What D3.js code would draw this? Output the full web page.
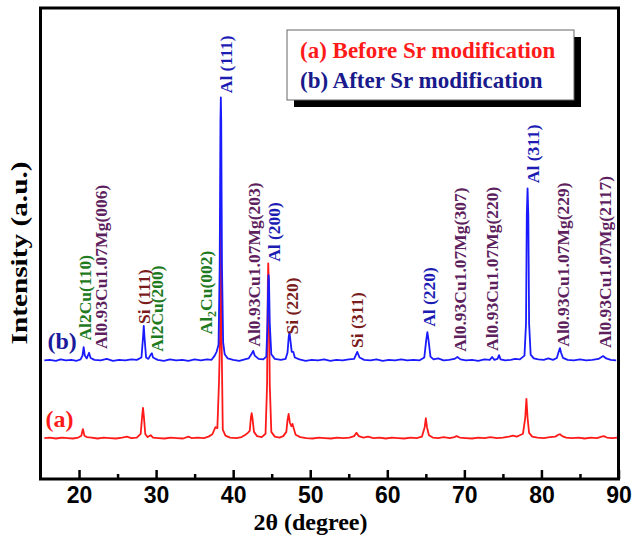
<!DOCTYPE html>
<html>
  <head>
    <meta charset="utf-8">
    <script src="https://d3js.org/d3.v7.min.js"></script>
    <title>XRD patterns</title>
    <style>
      body { margin: 0; background: #fff; }
      svg { font-family: "Liberation Serif", "Times New Roman", serif; }
      .tick text { font-size: 23px; font-weight: bold; fill: #000; }
      .tick line { stroke: #000; stroke-width: 2.5; }
      .peak-label { font-size: 17.5px; font-weight: bold; }
    </style>
  </head>
  <body>
    <svg width="632" height="538"></svg>
    <script>
      // 2theta (deg), intensity (a.u.)
      const before = [
        [15.5,87],[16.2,88],[17,86],[17.8,88],[18.5,87],[19.2,86],[19.9,88],[20.3,92],[20.5,106],[20.7,92],
        [21,89],[21.6,88],[22.4,86],[23.2,88],[24,87],[24.8,86],[25.6,88],[26.2,90],[26.8,87],[27.5,88],
        [28.0,96],[28.2,135],[28.3,151],[28.4,135],[28.6,95],[28.9,89],[29.3,93],[29.6,88],[30.3,87],[31.1,86],
        [31.9,88],[32.7,87],[33.5,86],[34.2,90],[34.6,87],[35.4,88],[36.2,87],[36.8,90],[37.3,95],[37.7,110],
        [37.95,108],[38.15,200],[38.3,300],[38.4,592],[38.5,300],[38.65,105],[39.0,92],[39.6,88],[40.4,87],
        [41.1,89],[41.6,94],[41.9,98],[42.15,102],[42.3,130],[42.4,140],[42.5,130],[42.7,100],[43.1,91],[43.7,89],
        [44.2,96],[44.4,200],[44.5,420],[44.55,458],[44.62,420],[44.75,200],[44.95,100],[45.4,90],[46,88],[46.5,91],
        [46.9,100],[47.05,125],[47.2,138],[47.35,120],[47.55,112],[47.7,117],[47.85,108],[48.1,94],[48.7,89],[49.5,87],
        [50.3,86],[51.1,88],[51.9,87],[52.7,86],[53.5,88],[54.3,87],[55.1,88],[55.7,91],[56.0,98],[56.3,91],
        [56.9,88],[57.5,90],[58.2,87],[59,88],[59.8,86],[60.6,88],[61.4,87],[62.2,86],[63,88],[63.8,87],
        [64.5,90],[64.85,110],[65.0,129],[65.15,110],[65.4,93],[65.9,88],[66.6,87],[67.3,89],[68.1,87],[68.7,89],
        [69.0,91],[69.4,88],[70.2,87],[71,86],[71.8,88],[72.6,87],[73.4,89],[74.2,87],[75,88],[75.8,90],
        [76.3,92],[76.8,90],[77.2,93],[77.6,96],[77.9,130],[78.05,170],[78.2,130],[78.4,98],[78.8,90],[79.5,88],
        [80.3,87],[81.1,89],[81.8,90],[82.2,94],[82.4,95],[82.7,91],[83.2,88],[84,87],[84.8,88],[85.6,86],
        [86.4,88],[87.2,87],[87.8,90],[88.1,91],[88.5,88],[89.2,87],[89.8,88]
      ];
      const after = [
        [15.5,252],[16.2,253],[17,251],[17.6,254],[18.3,252],[19,253],[19.7,251],[20.2,254],[20.45,262],[20.6,280],
        [20.75,262],[21.0,256],[21.3,268],[21.5,257],[22,253],[22.8,252],[23.6,255],[24.4,251],[25.2,253],[26,252],
        [26.8,254],[27.5,253],[28.1,258],[28.3,300],[28.4,325],[28.5,300],[28.7,258],[29.0,255],[29.3,264],[29.45,267],
        [29.6,258],[30.2,253],[31,251],[31.8,254],[32.6,252],[33.4,253],[34.2,251],[35,254],[35.8,252],[36.6,254],
        [37.2,253],[37.6,262],[37.85,270],[38.1,285],[38.25,450],[38.35,760],[38.4,810],[38.45,760],[38.55,450],[38.7,290],
        [38.9,265],[39.3,256],[40,253],[40.8,251],[41.5,254],[42.0,256],[42.4,266],[42.6,272],[42.8,262],[43.3,255],
        [43.9,254],[44.3,260],[44.45,330],[44.55,420],[44.6,433],[44.65,420],[44.75,330],[44.95,265],[45.4,255],[46.2,253],
        [46.8,255],[47.05,268],[47.2,300],[47.3,312],[47.4,298],[47.6,270],[47.8,270],[48.0,258],[48.6,254],[49.4,251],
        [50.2,253],[51,252],[51.8,254],[52.6,251],[53.4,253],[54.2,252],[55,254],[55.7,255],[56.1,270],[56.4,258],
        [57,253],[57.8,252],[58.6,254],[59.4,251],[60.2,253],[61,252],[61.8,254],[62.6,252],[63.4,253],[64.2,252],
        [64.8,258],[65.05,295],[65.2,312],[65.35,295],[65.6,260],[66,254],[66.6,256],[67.3,252],[68,253],[68.7,255],
        [69.1,259],[69.5,254],[70.2,252],[71,253],[71.8,251],[72.6,254],[73.3,253],[73.6,259],[73.9,253],[74.3,255],
        [74.5,263],[74.7,254],[75.3,252],[76,253],[76.6,255],[77.2,254],[77.8,262],[78.0,330],[78.1,560],[78.2,617],
        [78.3,560],[78.4,330],[78.6,264],[79,256],[79.6,254],[80.3,253],[80.9,256],[81.5,253],[82.0,257],[82.2,268],
        [82.4,278],[82.55,268],[82.8,257],[83.4,253],[84.2,252],[85,254],[85.8,252],[86.6,253],[87.4,255],[88.0,261],
        [88.4,256],[89,253],[89.7,252]
      ];

      // peak labels: text, phase, 2theta, intensity where label starts
      const peakLabels = [
        ['Al2Cu(110)', 'al2cu', 20.77, 294],
        ['Al0.93Cu1.07Mg(006)', 'mg', 22.85, 276],
        ['Si (111)', 'si', 28.35, 329],
        ['Al2Cu(200)', 'al2cu', 30.08, 270],
        ['Al_2Cu(002)', 'al2cu', 36.47, 307],
        ['Al (111)', 'al', 39.07, 819],
        ['Al0.93Cu1.07Mg(203)', 'mg', 42.70, 281],
        ['Al (200)', 'al', 45.25, 461],
        ['Si (220)', 'si', 47.56, 307],
        ['Si (311)', 'si', 56.07, 278],
        ['Al (220)', 'al', 65.36, 323],
        ['Al0.93Cu1.07Mg(307)', 'mg', 69.43, 270],
        ['Al0.93Cu1.07Mg(220)', 'mg', 73.58, 272],
        ['Al (311)', 'al', 78.85, 628],
        ['Al0.93Cu1.07Mg(229)', 'mg', 82.78, 281],
        ['Al0.93Cu1.07Mg(2117)', 'mg', 88.25, 278]
      ];
      const majorTicks = [20, 30, 40, 50, 60, 70, 80, 90];
      const minorTicks = [25, 35, 45, 55, 65, 75, 85];
      const legendItems = ['(a) Before Sr modification', '(b) After Sr modification'];

      const phaseColor = { al: '#1c1cb4', si: '#7a1c1c', al2cu: '#1e7a1e', mg: '#5e1f5e' };

      const svg = d3.select('svg');
      const margin = { left: 40.5, top: 8, right: 13.5, bottom: 59 };
      const width = +svg.attr('width') - margin.left - margin.right;
      const height = +svg.attr('height') - margin.top - margin.bottom;

      const x = d3.scaleLinear().domain([15, 90]).range([0, width]);
      const y = d3.scaleLinear().domain([0, 1000]).range([height, 0]);

      const g = svg.append('g').attr('transform', `translate(${margin.left},${margin.top})`);

      // ticks (inward)
      const xAxis = g.append('g')
        .attr('transform', `translate(0,${height})`)
        .call(d3.axisBottom(x).tickValues(majorTicks).tickSizeInner(-9).tickSizeOuter(0).tickFormat(d3.format('d')));
      xAxis.select('.domain').remove();
      xAxis.selectAll('.tick text').attr('y', 24).attr('dy', null);

      const minorAxis = g.append('g')
        .attr('transform', `translate(0,${height})`)
        .call(d3.axisBottom(x).tickValues(minorTicks).tickSizeInner(-5).tickSizeOuter(0).tickFormat(''));
      minorAxis.select('.domain').remove();

      const line = d3.line().x(d => x(d[0])).y(d => y(d[1]));

      g.append('path').datum(before)
        .attr('fill', 'none').attr('stroke', '#ff1a1a').attr('stroke-width', 1.8)
        .attr('stroke-linejoin', 'round').attr('d', line);
      g.append('path').datum(after)
        .attr('fill', 'none').attr('stroke', '#1a1aff').attr('stroke-width', 1.8)
        .attr('stroke-linejoin', 'round').attr('d', line);

      // peak labels, rotated
      peakLabels.forEach(p => {
        const t = g.append('text')
          .attr('class', 'peak-label')
          .attr('transform', `translate(${x(p[2])},${y(p[3])}) rotate(-90)`)
          .attr('dy', '0.35em')
          .attr('fill', phaseColor[p[1]]);
        if (p[0].indexOf('_') >= 0) {
          const parts = p[0].split('_');
          t.append('tspan').text(parts[0]);
          t.append('tspan').attr('font-size', '12px').attr('dy', '4').text(parts[1][0]);
          t.append('tspan').attr('dy', '-4').text(parts[1].slice(1));
        } else {
          t.text(p[0]);
        }
      });

      // series tags
      g.append('text').attr('x', 7).attr('y', y(275)).attr('fill', '#1a1a9a')
        .attr('font-size', 24).attr('font-weight', 'bold').text('(b)');
      g.append('text').attr('x', 5).attr('y', y(111)).attr('fill', '#ff1a1a')
        .attr('font-size', 24).attr('font-weight', 'bold').text('(a)');

      // legend
      const lg = g.append('g').attr('transform', 'translate(246.5,22)');
      lg.append('rect').attr('x', 7).attr('y', 7).attr('width', 287).attr('height', 70).attr('fill', '#000');
      lg.append('rect').attr('x', 0).attr('y', 0).attr('width', 287).attr('height', 70)
        .attr('fill', '#fff').attr('stroke', '#666').attr('stroke-width', 1);
      lg.selectAll('text.leg').data(legendItems).enter().append('text')
        .attr('class', 'leg')
        .attr('x', 13).attr('y', (d, i) => 28 + i * 30)
        .attr('font-size', 23).attr('font-weight', 'bold')
        .attr('fill', (d, i) => i === 0 ? '#ff1a1a' : '#1a1a8c')
        .text(d => d);

      // frame
      g.append('rect').attr('width', width).attr('height', height)
        .attr('fill', 'none').attr('stroke', '#000').attr('stroke-width', 3);

      // axis titles
      g.append('text').attr('x', 270).attr('y', height + 51)
        .attr('text-anchor', 'middle').attr('font-size', 24).attr('font-weight', 'bold')
        .text('2θ (degree)');
      g.append('text').attr('transform', `translate(${-22},245) rotate(-90)`)
        .attr('text-anchor', 'middle').attr('dy', '0.35em').attr('font-size', 24).attr('font-weight', 'bold')
        .attr('textLength', 183).attr('lengthAdjust', 'spacingAndGlyphs')
        .text('Intensity (a.u.)');
    </script>
  </body>
</html>
